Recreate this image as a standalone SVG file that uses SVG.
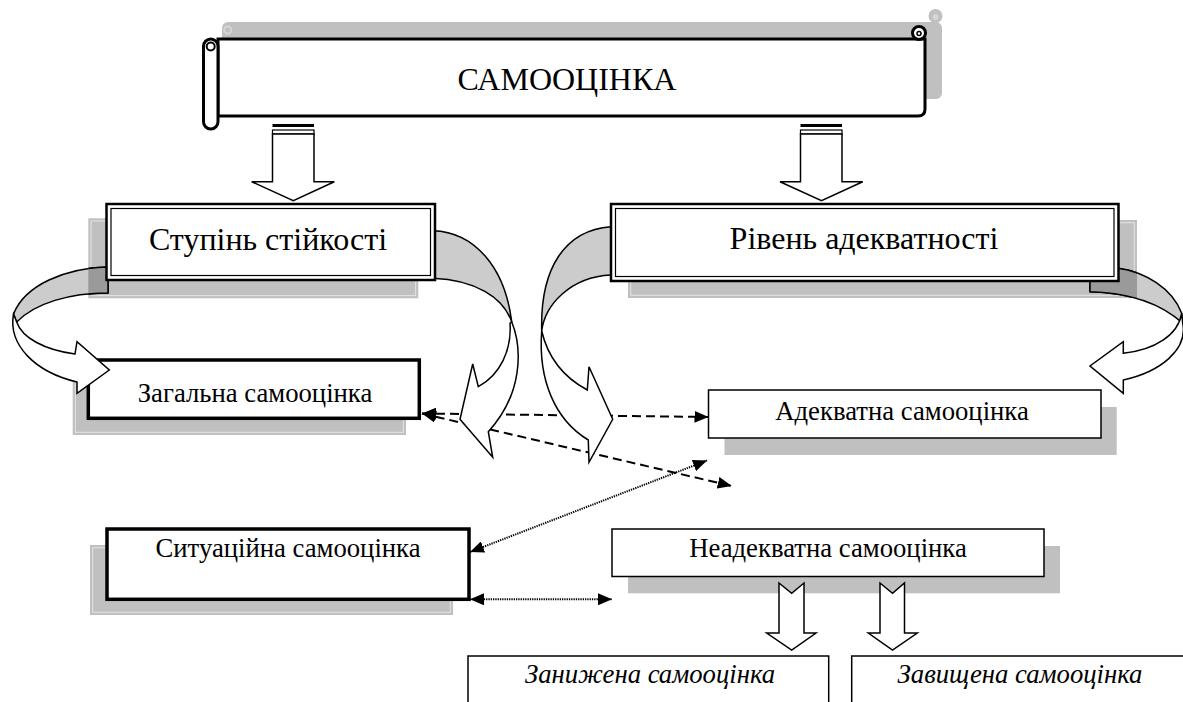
<svg xmlns="http://www.w3.org/2000/svg" width="1183" height="702" viewBox="0 0 1183 702">
<style>
text{font-family:"Liberation Serif","Tinos","Times New Roman","DejaVu Serif",serif;fill:#000}
.big{font-size:32px}
.mid{font-size:26.7px}
.it{font-style:italic}
.sh{fill:#c0c0c0}
.inset{fill:none;stroke:#e4e4e4;stroke-width:1}
.box{fill:#fff;stroke:#000;stroke-width:1.5}
.thick{fill:#fff;stroke:#000;stroke-width:3.5}
.outer{fill:#fff;stroke:#000;stroke-width:2.5}
.inner{fill:none;stroke:#000;stroke-width:1.2}
.band{fill:#cccccc;stroke:#000;stroke-width:1.5;stroke-linejoin:round}
.dark{fill:#9a9a9a;stroke:#000;stroke-width:1.5}
.front{fill:#fff;stroke:#000;stroke-width:1.5;stroke-linejoin:miter}
.dash{stroke:#000;stroke-width:2;stroke-dasharray:9 5;fill:none}
.dot{stroke:#000;stroke-width:2;stroke-dasharray:1.3 1;fill:none}
.arr{fill:#fff;stroke:#000;stroke-width:1.5;stroke-linejoin:miter}
.scroll{fill:#fff;stroke:#000;stroke-width:3}
</style>
<defs>
<marker id="ah" viewBox="0 0 14 12" refX="14" refY="6" markerWidth="14" markerHeight="12" markerUnits="userSpaceOnUse" orient="auto-start-reverse">
<path d="M0,0 L14,6 L0,12 Z" fill="#000"/>
</marker>
<clipPath id="clipL"><rect x="88.3" y="218.3" width="330" height="80"/></clipPath>
<clipPath id="clipR"><rect x="628" y="220" width="509" height="78"/></clipPath>
</defs>

<g id="shadows">
<rect class="sh" x="222" y="22" width="720" height="77" rx="6"/>
<circle cx="935.5" cy="16" r="7" fill="#c0c0c0"/>
<circle cx="935.5" cy="17" r="3" fill="#d6d6d6"/>
<circle cx="227.7" cy="30" r="3.5" fill="none" stroke="#d6d6d6" stroke-width="2"/>
<rect class="sh" x="88.3" y="218.3" width="330" height="80"/>
<rect class="inset" x="91" y="221" width="324.6" height="74.6"/>
<rect class="sh" x="628" y="220" width="509" height="78"/>
<rect class="inset" x="630.7" y="222.7" width="503.6" height="72.6"/>
<rect class="sh" x="72.7" y="376" width="333.3" height="59"/>
<rect class="inset" x="75.4" y="378.7" width="327.9" height="53.6"/>
<rect class="sh" x="724.5" y="407" width="392.2" height="48"/>
<rect class="sh" x="90" y="545" width="363" height="70"/>
<rect class="inset" x="92.7" y="547.7" width="357.6" height="64.6"/>
<rect class="sh" x="628" y="546" width="432" height="47.3"/>
</g>

<g id="samoocinka">
<path class="scroll" d="M218,39 H925 V109 Q925,116 918,116 H218 Z"/>
<circle class="scroll" cx="919" cy="33" r="6.5"/>
<circle cx="919" cy="33.5" r="2" fill="#fff" stroke="#000" stroke-width="1.5"/>
<rect class="scroll" x="203.5" y="39" width="14.5" height="90" rx="7.25"/>
<circle cx="210.7" cy="46.5" r="4" fill="#fff" stroke="#000" stroke-width="2"/>
<text class="big" x="567" y="90" text-anchor="middle">САМООЦІНКА</text>
</g>

<g id="zahalna">
<rect class="thick" x="88.3" y="360" width="331" height="58.3"/>
<text class="mid" x="255" y="402" text-anchor="middle">Загальна самооцінка</text>
</g>

<g id="adekvatna">
<rect class="box" x="708.5" y="390" width="392.5" height="48"/>
<text class="mid" x="902" y="420" text-anchor="middle">Адекватна самооцінка</text>
</g>

<g id="sytuatsiina">
<rect class="thick" x="107" y="529" width="362" height="70.3"/>
<text class="mid" x="288" y="557" text-anchor="middle">Ситуаційна самооцінка</text>
</g>

<g id="neadekvatna">
<rect class="box" x="612" y="529" width="432" height="47.5"/>
<text class="mid" x="828" y="557" text-anchor="middle">Неадекватна самооцінка</text>
</g>

<g id="zanyzhena">
<rect class="box" x="468" y="656" width="360.7" height="60"/>
<text class="mid it" x="650" y="683" text-anchor="middle">Занижена самооцінка</text>
</g>

<g id="zavyshchena">
<rect class="box" x="851.7" y="656" width="345" height="60"/>
<text class="mid it" x="1020" y="683" text-anchor="middle">Завищена самооцінка</text>
</g>

<g id="connectors">
<rect x="272.5" y="124" width="41.5" height="3" fill="#000"/>
<rect x="272.5" y="130" width="41.5" height="4" fill="#fff" stroke="#000" stroke-width="1.2"/>
<path class="arr" d="M272.5,134 V181.7 H251.7 L293.3,200.7 L334.3,181.7 H314 V134 Z"/>
<rect x="800.5" y="124" width="41.5" height="3" fill="#000"/>
<rect x="800.5" y="130" width="41.5" height="4" fill="#fff" stroke="#000" stroke-width="1.2"/>
<path class="arr" d="M800.5,134 V181.7 H780 L821.5,200.7 L862.7,181.7 H842 V134 Z"/>

<line class="dash" x1="422" y1="413.5" x2="708.5" y2="417" marker-start="url(#ah)" marker-end="url(#ah)"/>
<line class="dash" x1="422" y1="413.5" x2="731.7" y2="486" marker-start="url(#ah)" marker-end="url(#ah)"/>
<line class="dot" x1="470" y1="552" x2="707" y2="460.5" marker-start="url(#ah)" marker-end="url(#ah)"/>
<line class="dot" x1="470" y1="599.3" x2="612" y2="599.3" marker-start="url(#ah)" marker-end="url(#ah)"/>

<path class="band" d="M108,267 C65,268 25,285 13.5,314 L16.7,322 C35,303 70,293 108,293 Z"/>
<path class="dark" clip-path="url(#clipL)" d="M108,267 C65,268 25,285 13.5,314 L16.7,322 C35,303 70,293 108,293 Z"/>
<path class="front" d="M13.5,314 C8,345 35,372 77,382 L77,393.3 L109.3,370 L77,341.7 L75,354 C45,350 22,338 16.7,322 Z"/>

<path class="band" d="M1090,268 L1118,268.3 C1145,272 1172,288 1181.7,313.3 L1182.7,323.3 C1165,307 1135,293 1090,291.7 Z"/>
<path class="dark" clip-path="url(#clipR)" d="M1090,268 L1118,268.3 C1145,272 1172,288 1181.7,313.3 L1182.7,323.3 C1165,307 1135,293 1090,291.7 Z"/>
<path class="front" d="M1181.7,313.3 C1178,335 1155,350 1123.3,353.3 L1123.3,341.7 L1090,366 L1123.3,393.3 L1123.3,380 C1160,372 1188,350 1182.7,323.3 Z"/>

<path class="band" d="M430,230.7 L433,230.7 C475,232 505,268 511.7,321.7 C503,297 475,280 433,278.3 L430,278.3 Z"/>
<path class="front" d="M511.7,321.7 C523,350 522,395 488.3,431.7 L492.7,457.3 L460,419.3 L472.7,364 L478.3,386.7 C500,375 512,350 510,323.3 Z"/>

<path class="band" d="M614,226.7 L611,226.7 C565,230 540,268 541.7,331 C545,305 570,277 611,275 L614,275 Z"/>
<path class="front" d="M541.7,331 C538,380 555,420 588.3,440 L589,462.3 L612.7,419.3 L589,366.7 L587.3,390 C565,378 548,358 541.7,331 Z"/>

<path class="arr" d="M779,583 L791.7,593.3 L804,583 V633 H816 L791.7,650 L766.7,633 H779 Z"/>
<path class="arr" d="M880,583 L892.5,593.3 L904.5,583 V633 H917.3 L892.5,650 L868.3,633 H880 Z"/>
</g>

<g id="stupin">
<rect class="outer" x="106.5" y="204" width="328.5" height="76"/>
<rect class="inner" x="111" y="208.5" width="319.5" height="67"/>
<text class="big" x="268" y="250" text-anchor="middle">Ступінь стійкості</text>
</g>

<g id="riven">
<rect class="outer" x="611" y="204" width="507.5" height="77"/>
<rect class="inner" x="615.5" y="208.5" width="498.5" height="68"/>
<text class="big" x="864" y="249" text-anchor="middle">Рівень адекватності</text>
</g>
</svg>
